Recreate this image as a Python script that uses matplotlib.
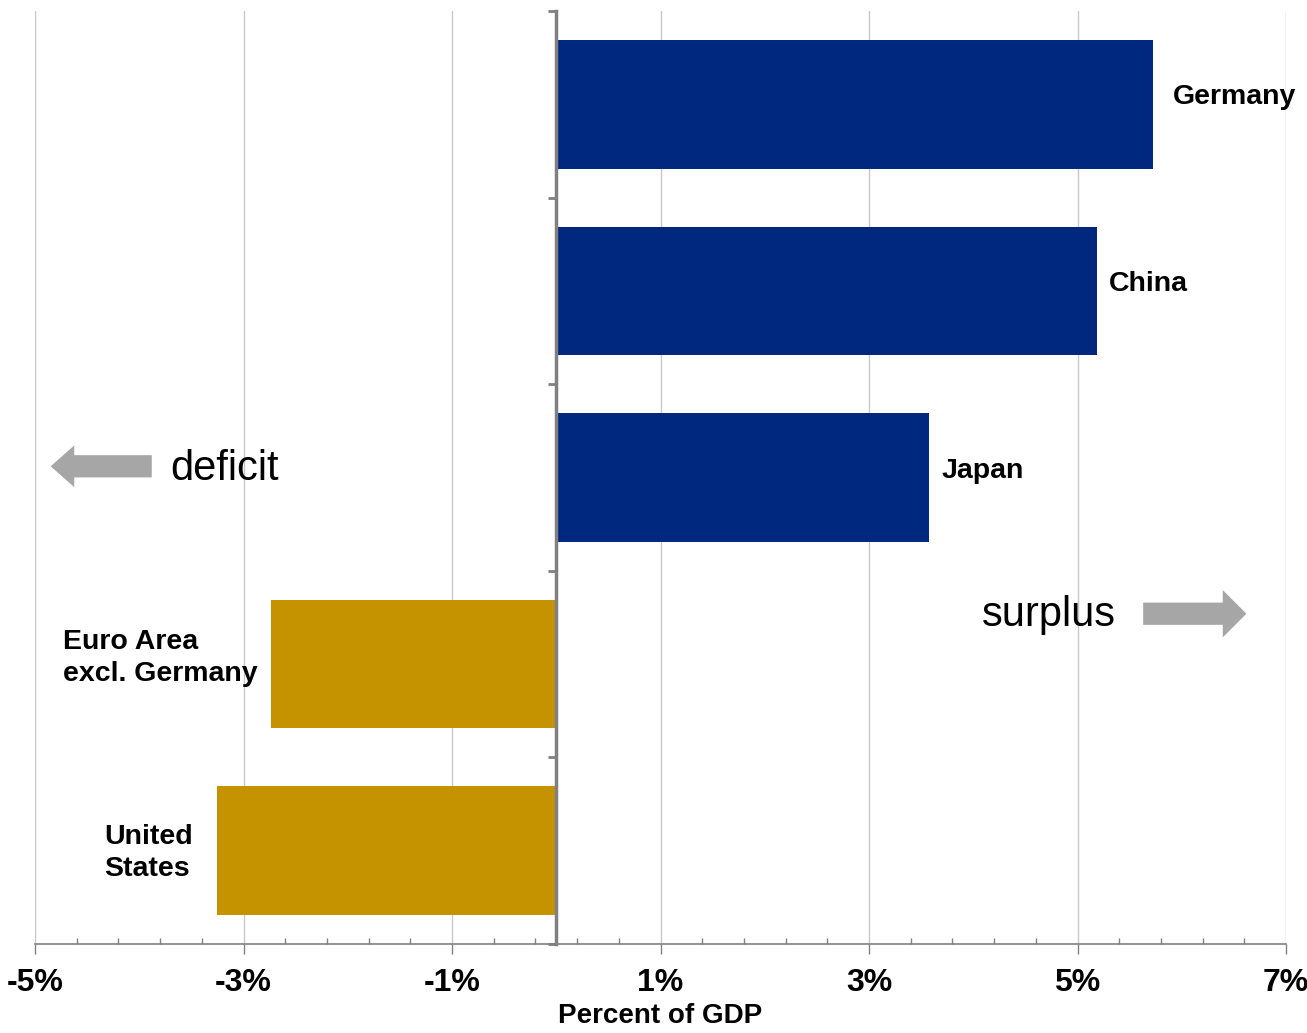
import matplotlib.pyplot as plt
from matplotlib.patches import FancyArrowPatch
from matplotlib.ticker import MultipleLocator, FuncFormatter

# current account balance, percent of GDP (top to bottom)
countries = ["Germany", "China", "Japan", "Euro Area\nexcl. Germany", "United\nStates"]
balance = [5.72, 5.19, 3.58, -2.74, -3.25]
bar_colors = ["#00287F", "#00287F", "#00287F", "#C69300", "#C69300"]
label_offset_px = [20, 12, 12, 13, 25]
label_shift_px = [7, 7, 7, 6, -2]

plt.rcParams["font.family"] = ["Liberation Sans", "DejaVu Sans"]

DPI = 100
fig = plt.figure(figsize=(13.07, 10.33), dpi=DPI)
W, H = 1307, 1033
ax = fig.add_axes([35 / W, 1 - 944 / H, (1286 - 35) / W, (944 - 11) / H])

n = len(countries)
ypos = [n - 1 - i for i in range(n)]
ax.barh(ypos, balance, height=0.69, color=bar_colors, zorder=3)

ax.set_xlim(-5, 7)
ax.set_ylim(-0.5, n - 0.5)

ax.xaxis.set_major_locator(MultipleLocator(2, offset=1))
ax.xaxis.set_minor_locator(MultipleLocator(0.4, offset=0.2))
ax.xaxis.set_major_formatter(FuncFormatter(lambda v, _: f"{v:.0f}%"))
ax.grid(axis="x", which="major", color="#c8c8c8", lw=1.0, zorder=0)

for side in ("top", "right"):
    ax.spines[side].set_visible(False)
ax.spines["bottom"].set_color("#808080")
ax.spines["bottom"].set_linewidth(1.2)
ax.spines["left"].set_position(("data", 0))
ax.spines["left"].set_color("#808080")
ax.spines["left"].set_linewidth(2.5)
ax.spines["left"].set_zorder(4)

ax.tick_params(axis="x", which="major", direction="out", length=7, width=1,
               color="#808080", pad=10)
ax.tick_params(axis="x", which="minor", direction="in", length=4, width=1,
               color="#808080")
ax.set_yticks([i - 0.5 for i in range(n + 1)])
ax.set_yticklabels([])
ax.tick_params(axis="y", direction="out", length=6, width=2, color="#808080")

for lbl in ax.get_xticklabels():
    lbl.set_family(["Liberation Sans Narrow", "Liberation Sans"])
    lbl.set_fontweight("bold")
    lbl.set_fontsize(23)

ax.set_xlabel("Percent of GDP", fontsize=20, fontweight="bold", labelpad=4)

# country labels next to bar ends
for y, v, name, off, dy in zip(ypos, balance, countries, label_offset_px, label_shift_px):
    sign = 1 if v > 0 else -1
    ax.annotate(name, xy=(v, y), xytext=(sign * off * 72 / DPI, dy * 72 / DPI),
                textcoords="offset points", ha="left" if v > 0 else "right",
                va="center", fontsize=20.5, fontweight="bold",
                multialignment="left", linespacing=1.3, zorder=5)

# deficit / surplus arrows
arrow_col = "#a6a6a6"
ax.add_patch(FancyArrowPatch((-3.88, 2.06), (-4.85, 2.06),
                             arrowstyle="simple,head_length=17,head_width=30,tail_width=16",
                             mutation_scale=1, color=arrow_col, lw=0,
                             shrinkA=0, shrinkB=0, zorder=5))
ax.text(-3.70, 2.045, "deficit", fontsize=30, ha="left", va="center", zorder=5)

ax.add_patch(FancyArrowPatch((5.63, 1.27), (6.62, 1.27),
                             arrowstyle="simple,head_length=17,head_width=34,tail_width=16",
                             mutation_scale=1, color=arrow_col, lw=0,
                             shrinkA=0, shrinkB=0, zorder=5))
ax.text(5.37, 1.265, "surplus", fontsize=30, ha="right", va="center", zorder=5)

fig.savefig("out.png", dpi=DPI)
